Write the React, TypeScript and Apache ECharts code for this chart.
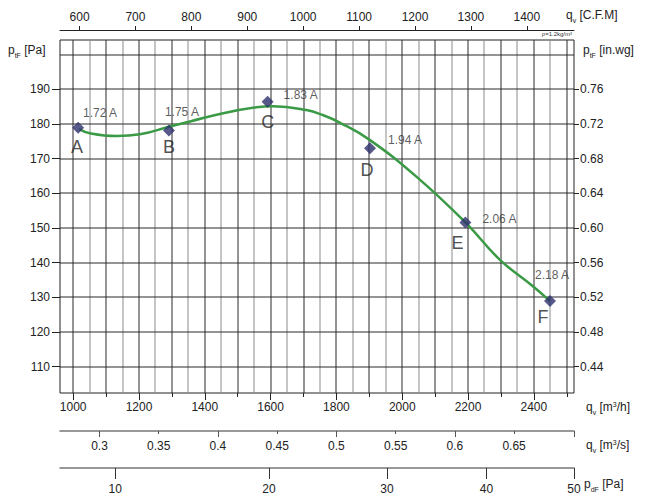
import React, { useEffect, useRef } from 'react';
import * as echarts from 'echarts';

// ---- data ----
const curveQ = [1018, 1051, 1132, 1203, 1291, 1355, 1456, 1557, 1608, 1709, 1760, 1810, 1901, 2043, 2192, 2297, 2398, 2449];
const curveP = [178.5, 177.3, 176.5, 177.0, 179.2, 180.7, 183.1, 184.8, 185.1, 184.0, 182.5, 180.4, 175.4, 164.8, 151.6, 140.8, 133.1, 128.9];

const pointQ = [1015, 1291, 1591, 1902, 2192, 2449];
const pointP = [178.9, 178.1, 186.4, 173.0, 151.6, 128.9];
const pointCurrent = ['1.72 A', '1.75 A', '1.83 A', '1.94 A', '2.06 A', '2.18 A'];
const pointLetter = ['A', 'B', 'C', 'D', 'E', 'F'];

// tick values
const m3hLabelTicks = [1000, 1200, 1400, 1600, 1800, 2000, 2200, 2400];
const m3hMinorTicks = [1100, 1300, 1500, 1700, 1900, 2100, 2300, 2500];
const cfmTicks = [600, 700, 800, 900, 1000, 1100, 1200, 1300, 1400];
const m3sMajorTicks = [0.3, 0.4, 0.5, 0.6];
const m3sMinorTicks = [0.35, 0.45, 0.55, 0.65];
const pdTicks = [10, 20, 30, 40, 50];
const paTicks = [110, 120, 130, 140, 150, 160, 170, 180, 190];
const vGridLines = [1000, 1050, 1100, 1150, 1200, 1250, 1300, 1350, 1400, 1450, 1500, 1550, 1600, 1650, 1700, 1750, 1800, 1850, 1900, 1950, 2000, 2050, 2100, 2150, 2200, 2250, 2300, 2350, 2400, 2450, 2500];
const hGridLines = [110, 120, 130, 140, 150, 160, 170, 180, 190, 200];

// axis extents and unit conversions
const Q_MIN = 960;
const Q_MAX = 2522;
const P_MIN = 102.4;
const P_MAX = 204.2;
const CFM_PER_M3H = 0.588578;
const PA_PER_INWG = 249.089;
const PD_AT_QMAX = 50;

// styling (offsets of labels relative to markers)
const currentOffsets = [[22, -15], [13, -19], [33, -7], [35, -8], [34, -3], [2, -26]];
const letterOffsets = [[-1, 19], [0, 16], [0, 20], [-3, 22], [-8, 21], [-7, 16]];

const FONT = '"Liberation Sans", Arial, sans-serif';
const TXT = '#222';

export default function App() {
  const ref = useRef<HTMLDivElement>(null);
  useEffect(() => {
    document.body.style.margin = '0';
    const chart = echarts.init(ref.current!, null, { renderer: 'svg' });
    const lbl = { fontFamily: FONT, fontSize: 12, color: TXT };
    const noSplit = { show: false };
    const m3sMax = Q_MAX / 3600;
    const pdQ = pdTicks.map((p) => Q_MAX * Math.sqrt(p / PD_AT_QMAX));
    const rich = {
      b: { fontFamily: FONT, fontSize: 12, fill: TXT },
      s: { fontFamily: FONT, fontSize: 7, fill: TXT, verticalAlign: 'bottom', padding: [0, 0, -3, 0] },
      p: { fontFamily: FONT, fontSize: 7, fill: TXT, verticalAlign: 'top' },
    };
    const plain = (v: number) => String(v);
    const gridData = [
      ...vGridLines.map((v) => [0, v, v % 100 === 0 ? 1 : 0]),
      ...hGridLines.map((v) => [1, v, 1]),
    ];
    const option: any = {
      animation: false,
      grid: { left: 60, top: 40, width: 514, height: 353, show: true, borderColor: '#222', borderWidth: 1, backgroundColor: 'transparent' },
      xAxis: [
        {
          type: 'value', position: 'bottom', min: Q_MIN, max: Q_MAX,
          axisLine: { show: false }, splitLine: noSplit,
          axisTick: { customValues: m3hLabelTicks, length: 7, lineStyle: { color: '#222' } },
          axisLabel: { ...lbl, customValues: m3hLabelTicks, margin: 8, formatter: plain },
        },
        {
          type: 'value', position: 'bottom', min: Q_MIN, max: Q_MAX,
          axisLine: { show: false }, splitLine: noSplit,
          axisTick: { customValues: m3hMinorTicks, length: 4, lineStyle: { color: '#222' } },
          axisLabel: { show: false },
        },
        {
          type: 'value', position: 'top', offset: 10, min: Q_MIN * CFM_PER_M3H, max: Q_MAX * CFM_PER_M3H,
          axisLine: { show: true, lineStyle: { color: '#222', width: 1 } }, splitLine: noSplit,
          axisTick: { customValues: cfmTicks, length: 4, lineStyle: { color: '#222' } },
          axisLabel: { ...lbl, customValues: cfmTicks, margin: 7, formatter: plain },
        },
        {
          type: 'value', position: 'bottom', offset: 38, min: Q_MIN / 3600, max: m3sMax,
          axisLine: { show: true, lineStyle: { color: '#777', width: 1.5 } }, splitLine: noSplit,
          axisTick: { customValues: [...m3sMajorTicks, m3sMax], length: 6, lineStyle: { color: '#555' } },
          axisLabel: { ...lbl, customValues: [...m3sMajorTicks, ...m3sMinorTicks], margin: 9, formatter: (v: number) => String(+v.toFixed(2)) },
        },
        {
          type: 'value', position: 'bottom', offset: 38, min: Q_MIN / 3600, max: m3sMax,
          axisLine: { show: false }, splitLine: noSplit,
          axisTick: { customValues: m3sMinorTicks, length: 3, lineStyle: { color: '#555' } },
          axisLabel: { show: false },
        },
        {
          type: 'value', position: 'bottom', offset: 75, min: Q_MIN, max: Q_MAX,
          axisLine: { show: true, lineStyle: { color: '#777', width: 1.5 } }, splitLine: noSplit,
          axisTick: { customValues: pdQ, length: 11, lineStyle: { color: '#333' } },
          axisLabel: {
            ...lbl, customValues: pdQ, margin: 15,
            formatter: (v: number) => String(Math.round(PD_AT_QMAX * (v / Q_MAX) ** 2)),
          },
        },
      ],
      yAxis: [
        {
          type: 'value', position: 'left', min: P_MIN, max: P_MAX,
          axisLine: { show: false }, splitLine: noSplit,
          axisTick: { customValues: paTicks, length: 8, lineStyle: { color: '#222' } },
          axisLabel: { ...lbl, customValues: paTicks, margin: 10 },
        },
        {
          type: 'value', position: 'right', min: P_MIN, max: P_MAX,
          axisLine: { show: false }, splitLine: noSplit,
          axisTick: { customValues: paTicks, length: 5, lineStyle: { color: '#222' } },
          axisLabel: { ...lbl, customValues: paTicks, margin: 6, formatter: (v: number) => (v / PA_PER_INWG).toFixed(2) },
        },
      ],
      series: [
        {
          type: 'custom', xAxisIndex: 0, yAxisIndex: 0, silent: true, z: 1, clip: false,
          encode: { x: -1, y: -1 },
          data: gridData,
          renderItem: (params: any, api: any) => {
            const kind = api.value(0);
            const v = api.value(1);
            const dark = api.value(2) === 1;
            const color = dark ? '#2a2a2a' : '#8c8c8c';
            if (kind === 0) {
              const a = api.coord([v, P_MAX]);
              const b = api.coord([v, P_MIN]);
              return { type: 'rect', shape: { x: Math.round(a[0]) - 0.5, y: a[1], width: 1, height: b[1] - a[1] }, style: { fill: color } };
            }
            const a = api.coord([Q_MIN, v]);
            const b = api.coord([Q_MAX, v]);
            return { type: 'rect', shape: { x: a[0], y: Math.round(a[1]) - 0.5, width: b[0] - a[0], height: 1 }, style: { fill: color } };
          },
        },
        {
          type: 'line', xAxisIndex: 0, yAxisIndex: 0, smooth: 0.45, symbol: 'none', z: 3,
          lineStyle: { color: '#3a9a45', width: 2.5 },
          data: curveQ.map((q, i) => [q, curveP[i]]),
        },
        {
          type: 'scatter', xAxisIndex: 0, yAxisIndex: 0, symbol: 'diamond', symbolSize: 12, z: 4,
          itemStyle: { color: '#2c2f6b' },
          label: {
            show: true, position: 'inside', fontFamily: FONT, fontSize: 12, color: '#333',
            textBorderWidth: 0, textBorderColor: 'transparent',
            formatter: (p: any) => pointCurrent[p.dataIndex],
          },
          data: pointQ.map((q, i) => ({ value: [q, pointP[i]], label: { offset: currentOffsets[i], color: '#333' } })),
        },
        {
          type: 'scatter', xAxisIndex: 0, yAxisIndex: 0, symbol: 'circle', symbolSize: 1, z: 4,
          itemStyle: { color: 'rgba(0,0,0,0)' },
          label: {
            show: true, position: 'inside', fontFamily: FONT, fontSize: 18, color: '#222',
            textBorderWidth: 0, textBorderColor: 'transparent',
            formatter: (p: any) => pointLetter[p.dataIndex],
          },
          data: pointQ.map((q, i) => ({ value: [q, pointP[i]], label: { offset: letterOffsets[i], color: '#222' } })),
        },
      ],
      graphic: [
        { type: 'text', x: 8, y: 50, style: { text: '{b|p}{s|tF}{b| [Pa]}', rich, verticalAlign: 'middle', align: 'left' } },
        { type: 'text', x: 583, y: 50, style: { text: '{b|p}{s|tF}{b| [in.wg]}', rich, verticalAlign: 'middle', align: 'left' } },
        { type: 'text', x: 566, y: 15, style: { text: '{b|q}{s|v}{b| [C.F.M]}', rich, verticalAlign: 'middle', align: 'left' } },
        { type: 'text', x: 572, y: 34, style: { text: 'ρ=1.2kg/m³', font: '6px ' + FONT, fill: '#333', verticalAlign: 'middle', align: 'right' } },
        { type: 'text', x: 586, y: 407, style: { text: '{b|q}{s|v}{b| [m}{p|3}{b|/h]}', rich, verticalAlign: 'middle', align: 'left' } },
        { type: 'text', x: 586, y: 445, style: { text: '{b|q}{s|v}{b| [m}{p|3}{b|/s]}', rich, verticalAlign: 'middle', align: 'left' } },
        { type: 'text', x: 584, y: 484, style: { text: '{b|p}{s|dF}{b| [Pa]}', rich, verticalAlign: 'middle', align: 'left' } },
      ],
    };
    chart.setOption(option);
    return () => chart.dispose();
  }, []);
  return <div ref={ref} style={{ width: 652, height: 497 }} />;
}
